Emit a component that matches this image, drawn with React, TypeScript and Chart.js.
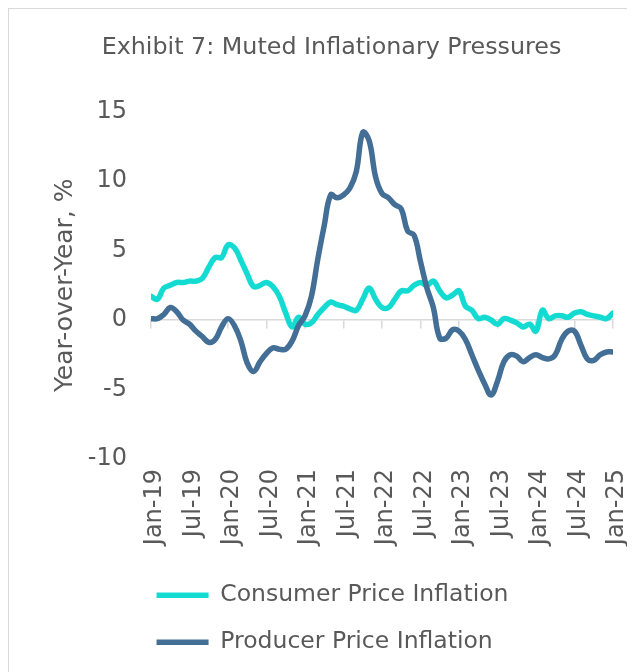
import React, { useEffect, useRef } from "react";
import { Chart, registerables } from "chart.js";

Chart.register(...registerables);

const months = ["Jan", "Feb", "Mar", "Apr", "May", "Jun", "Jul", "Aug", "Sep", "Oct", "Nov", "Dec"];
const years = ["19", "20", "21", "22", "23", "24", "25"];
const categories: string[] = [];
years.forEach((y) => months.forEach((m) => categories.push(`${m}-${y}`)));
categories.length = 73; // Jan-19 .. Jan-25

const cpi = [
  1.7, 1.5, 2.3, 2.5, 2.7, 2.7, 2.8, 2.8, 3.0, 3.8, 4.5, 4.5,
  5.4, 5.2, 4.3, 3.3, 2.4, 2.5, 2.7, 2.4, 1.7, 0.5, -0.5, 0.2,
  -0.3, -0.2, 0.4, 0.9, 1.3, 1.1, 1.0, 0.8, 0.7, 1.5, 2.3, 1.5,
  0.9, 0.9, 1.5, 2.1, 2.1, 2.5, 2.7, 2.5, 2.8, 2.1, 1.6, 1.8,
  2.1, 1.0, 0.7, 0.1, 0.2, 0.0, -0.3, 0.1, 0.0, -0.2, -0.5, -0.3,
  -0.8, 0.7, 0.1, 0.3, 0.3, 0.2, 0.5, 0.6, 0.4, 0.3, 0.2, 0.1,
  0.5,
];

const ppi = [
  0.1, 0.1, 0.4, 0.9, 0.6, 0.0, -0.3, -0.8, -1.2, -1.6, -1.4, -0.5,
  0.1, -0.4, -1.5, -3.1, -3.7, -3.0, -2.4, -2.0, -2.1, -2.1, -1.5, -0.4,
  0.3, 1.7, 4.4, 6.8, 9.0, 8.8, 9.0, 9.5, 10.7, 13.5, 12.9, 10.3,
  9.1, 8.8, 8.3, 8.0, 6.4, 6.1, 4.2, 2.3, 0.9, -1.3, -1.3, -0.7,
  -0.8, -1.4, -2.5, -3.6, -4.6, -5.4, -4.4, -3.0, -2.5, -2.6, -3.0, -2.7,
  -2.5, -2.7, -2.8, -2.5, -1.4, -0.8, -0.8, -1.8, -2.8, -2.9, -2.5, -2.3,
  -2.3,
];

const yTicks = [15, 10, 5, 0, -5, -10];
const seriesNames = ["Consumer Price Inflation", "Producer Price Inflation"];
const seriesColors = ["#14DBD1", "#436E95"];

const FONT = "'DejaVu Sans', sans-serif";
const TEXT = "#595959";

// Excel-like vertical legend: both rows share one left edge
const legendAlignPlugin = {
  id: "legendAlign",
  afterLayout(chart: any) {
    const lg = chart.legend;
    if (lg && Array.isArray(lg.lineWidths) && lg.lineWidths.length > 1) {
      const m = Math.max(...lg.lineWidths) - 2;
      lg.lineWidths = lg.lineWidths.map(() => m);
    }
  },
};

export default function App() {
  const ref = useRef<HTMLCanvasElement | null>(null);

  useEffect(() => {
    if (!ref.current) return;
    const toPoints = (arr: number[]) => arr.map((v, i) => ({ x: i, y: v }));
    const chart = new Chart(ref.current, {
      type: "line",
      data: {
        datasets: [cpi, ppi].map((arr, k) => ({
          label: seriesNames[k],
          data: toPoints(arr),
          borderColor: seriesColors[k],
          backgroundColor: seriesColors[k],
          borderWidth: 5.5,
          borderCapStyle: "round" as const,
          borderJoinStyle: "round" as const,
          pointRadius: 0,
          pointStyle: "line" as const,
          tension: 0.4,
          order: k === 0 ? 1 : 0,
          xAxisID: "x",
          yAxisID: "y",
        })),
      },
      plugins: [legendAlignPlugin],
      options: {
        animation: false,
        responsive: true,
        maintainAspectRatio: false,
        layout: { padding: { left: 41, right: 22, top: 0, bottom: 8 } },
        plugins: {
          title: {
            display: true,
            text: "Exhibit 7: Muted Inflationary Pressures",
            color: TEXT,
            font: { family: FONT, size: 23.8, weight: "normal" },
            padding: { top: 25, bottom: 49 },
          },
          legend: {
            display: true,
            position: "bottom",
            align: "center",
            labels: {
              color: TEXT,
              font: { family: FONT, size: 23.5 },
              usePointStyle: true,
              pointStyle: "line",
              pointStyleWidth: 52,
              boxHeight: 6,
              padding: 23.5,
              sort: (a: any, b: any) => a.datasetIndex - b.datasetIndex,
            },
          },
          tooltip: { enabled: false },
        },
        scales: {
          x: {
            type: "linear",
            min: 0,
            max: categories.length - 1,
            position: { y: 0 },
            ticks: { display: false, stepSize: 6 },
            grid: {
              display: true,
              drawOnChartArea: false,
              drawTicks: true,
              tickLength: 8,
              color: "#D9D9D9",
              lineWidth: 1.5,
            },
            border: { display: true, color: "#D9D9D9", width: 1.5 },
            afterFit: (scale: any) => {
              scale.paddingLeft = 0;
              scale.paddingRight = 0;
            },
          },
          x2: {
            type: "linear",
            axis: "x",
            min: 0,
            max: categories.length - 1,
            position: "bottom",
            grid: { display: false, drawTicks: false },
            border: { display: false },
            ticks: {
              stepSize: 6,
              autoSkip: false,
              minRotation: 90,
              maxRotation: 90,
              padding: 10,
              labelOffset: 4,
              color: TEXT,
              font: { family: FONT, size: 24 },
              callback: (v: any) => categories[Number(v)] ?? "",
            },
            afterFit: (scale: any) => {
              scale.height = 101;
              scale.paddingLeft = 0;
              scale.paddingRight = 0;
            },
          },
          y: {
            type: "linear",
            min: -10,
            max: 15,
            afterBuildTicks: (scale: any) => {
              scale.ticks = yTicks.map((v) => ({ value: v }));
            },
            grid: { display: false, drawTicks: false },
            border: { display: false },
            ticks: {
              padding: 24,
              color: TEXT,
              font: { family: FONT, size: 24 },
            },
            title: {
              display: true,
              text: "Year-over-Year, %",
              color: TEXT,
              font: { family: FONT, size: 25 },
              padding: { top: 0, bottom: 10 },
            },
            afterFit: (scale: any) => {
              scale.width = 101;
            },
          },
        },
      },
    });
    return () => chart.destroy();
  }, []);

  return (
    <div
      style={{
        width: 627,
        height: 664,
        boxSizing: "border-box",
        borderTop: "1px solid #D9D9D9",
        borderLeft: "1px solid #D9D9D9",
        position: "relative",
      }}
    >
      <div style={{ position: "absolute", left: 0, top: 0, width: 626, height: 663 }}>
        <canvas ref={ref} />
      </div>
    </div>
  );
}
